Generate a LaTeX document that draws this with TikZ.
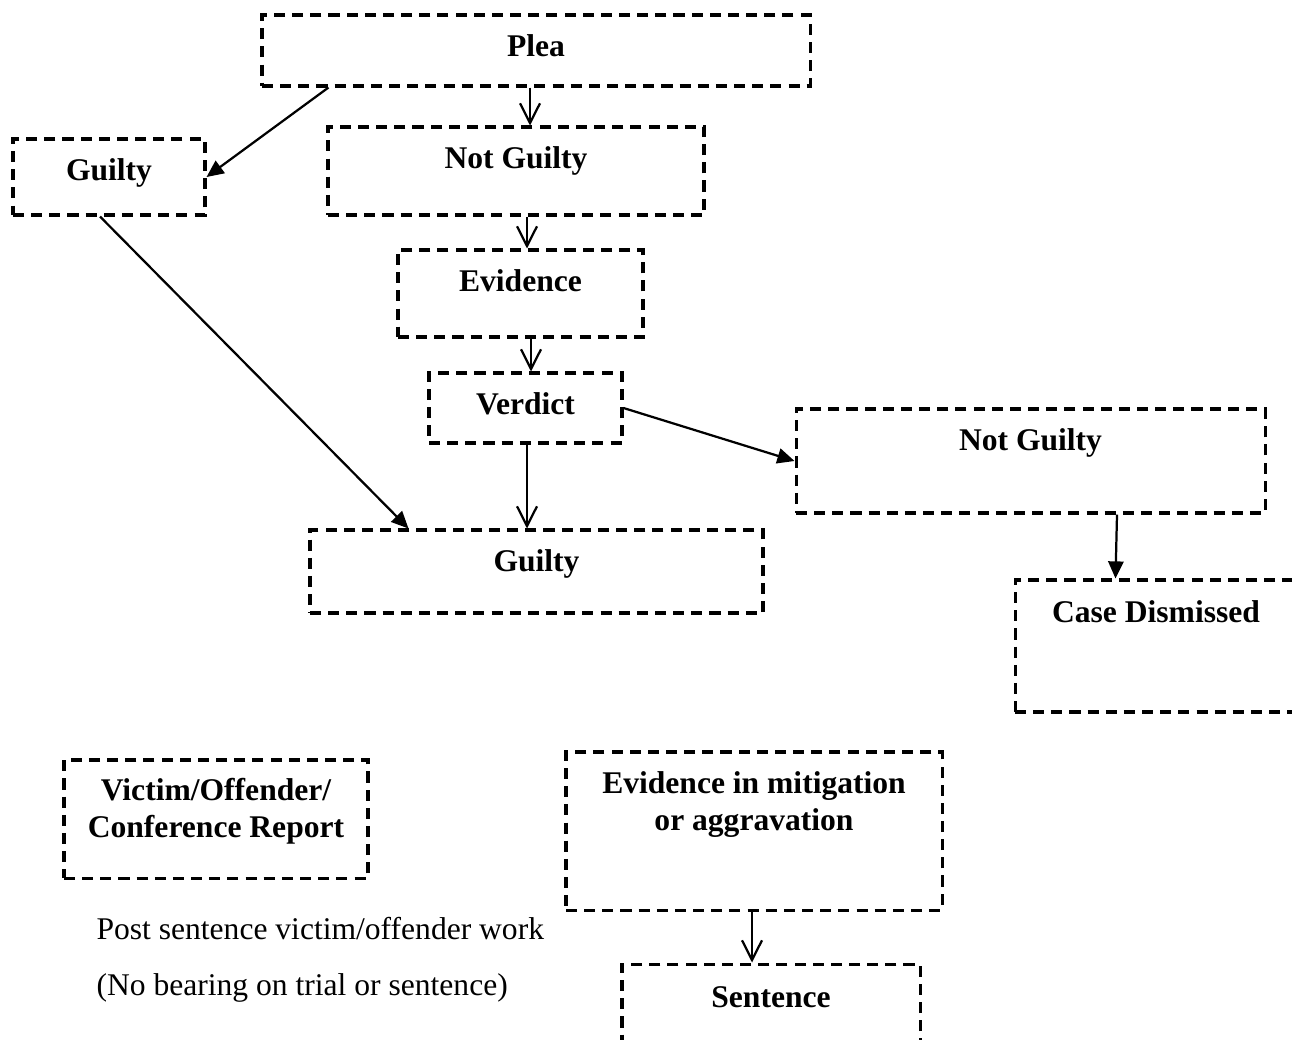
\documentclass[tikz,border=0pt]{standalone}
\usepackage{fontspec}
\setmainfont{Liberation Serif}
\usetikzlibrary{arrows.meta, calc}

\tikzset{
  dbox/.style 2 args={draw, line width=1.15pt, dash pattern=on 4.2pt off 2.7pt,
    minimum width=#1*0.38pt, minimum height=#2*0.38pt, inner sep=0pt},
  boxtext/.style={anchor=base, yshift=-#1*0.38pt, inner sep=0pt, align=center,
    font=\fontsize{12}{14}\selectfont\bfseries},
  boxtext/.default=43.5,
  vee/.style={-{Straight Barb[length=7.5pt, width=7.6pt]}, line width=0.85pt},
  tri/.style={-{Triangle[length=6.5pt, width=5.8pt]}, line width=0.85pt}
}

\begin{document}
\begin{tikzpicture}[x=0.38pt, y=-0.38pt]
\useasboundingbox (0, 0) rectangle (1292, 1039);
\clip (0, 0) rectangle (1292, 1039);
        % Draw the boxes
        \node[dbox={548}{71}, label={[boxtext]north:Plea}] at (536, 50.5) (plea) {};
        \node[dbox={192}{76}, label={[boxtext]north:Guilty}] at (109, 177) (guiltyA) {};
        \node[dbox={376}{88}, label={[boxtext]north:Not Guilty}] at (516, 171) (ngA) {};
        \node[dbox={245}{87}, label={[boxtext]north:Evidence}] at (520.5, 293.5) (evid) {};
        \node[dbox={193}{70}, label={[boxtext=43]north:Verdict}] at (525.5, 408) (verdict) {};
        \node[dbox={469}{104}, label={[boxtext]north:Not Guilty}] at (1030.5, 461) (ngB) {};
        \node[dbox={453}{83}, label={[boxtext]north:Guilty}] at (536.5, 571.5) (guiltyB) {};
        \node[dbox={282}{132}, label={[boxtext=44]north:Case Dismissed}] at (1156, 646) (dismissed) {};
        \node[dbox={304}{118}, label={[boxtext=79]north:Victim/Offender/\\Conference Report}] at (216, 819) (victim) {};
        \node[dbox={376}{158}, label={[boxtext=80]north:Evidence in mitigation\\or aggravation}] at (754, 831) (mitig) {};
        \node[dbox={298}{96}, label={[boxtext=45]north:Sentence}] at (771, 1012) (sentence) {};
        \node[anchor=base west, align=left, inner sep=0pt, font=\fontsize{12}{14}\selectfont]
            at (96, 995) (note) {Post sentence victim/offender work\\[7pt](No bearing on trial or sentence)};

        % Connect the boxes
\draw[tri]  ($(plea.south west)+(68, 0)$) -- (guiltyA.east);
\draw[vee]  ($(plea.south)+(-6, 0)$) -- ($(ngA.north)+(14, 0)$);
\draw[vee]  ($(ngA.south)+(11, 0)$) -- ($(evid.north)+(6.5, 0)$);
\draw[vee]  ($(evid.south)+(10.5, 0)$) -- ($(verdict.north)+(5.5, 0)$);
\draw[vee]  ($(verdict.south)+(1.5, 0)$) -- ($(guiltyB.north)+(-9.5, 0)$);
\draw[tri]  (verdict.east) -- (ngB.west);
\draw[tri]  ($(guiltyA.south)+(-9, 0)$) -- ($(guiltyB.north west)+(100, 0)$);
\draw[tri]  ($(ngB.south)+(86.5, 0)$) -- ($(dismissed.north west)+(102, 0)$);
\draw[vee]  ($(mitig.south)+(-2, 0)$) -- ($(sentence.north)+(-19, 0)$);
\end{tikzpicture}
\end{document}
